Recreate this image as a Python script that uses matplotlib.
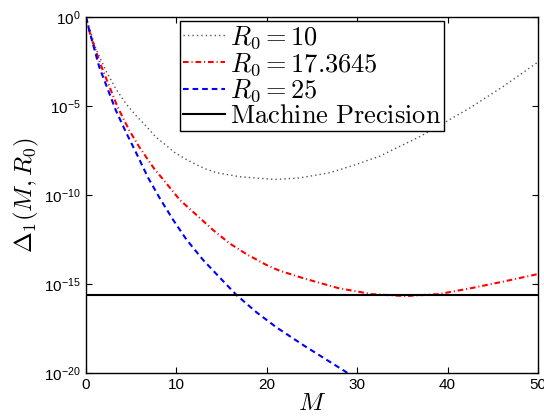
import numpy as np
import matplotlib
matplotlib.use('Agg')
import matplotlib.pyplot as plt
from matplotlib.ticker import FixedLocator, NullLocator

plt.rcParams['font.family'] = ['Liberation Sans', 'DejaVu Sans']
plt.rcParams['mathtext.fontset'] = 'cm'

# truncation error curves, stored as (M, log10 Delta_1) pairs
m_r10 = [0, 1.1, 2.2, 3.3, 4.42, 5.52, 6.63, 7.73, 8.84, 9.7, 11.0, 12.2, 13.3, 14.44,
         17.0, 20.9, 23.6, 27.0, 29.7, 32.5, 36.9, 39.5, 42.4, 46.1, 50.0]
log_r10 = [0, -1.78, -3.0, -4.03, -4.87, -5.53, -6.12, -6.75, -7.2, -7.58, -7.98,
           -8.3, -8.55, -8.75, -8.98, -9.13, -9.05, -8.75, -8.32, -7.82, -6.73,
           -5.98, -5.13, -3.92, -2.53]

m_r17 = [0, 0.55, 1.66, 2.39, 3.5, 4.79, 5.9, 7.55, 8.6, 10.4, 12.23, 14.07, 15.9,
         17.75, 19.96, 21.4, 24.2, 27.9, 31.6, 35.3, 39.0, 42.65, 46.3, 50.0]
log_r17 = [0, -1.12, -2.72, -3.65, -5.06, -6.37, -7.31, -8.53, -9.17, -10.29,
           -11.13, -11.98, -12.73, -13.33, -13.94, -14.26, -14.71, -15.24, -15.58,
           -15.69, -15.58, -15.24, -14.86, -14.45]

m_r25 = [0, 0.37, 1.47, 2.39, 3.31, 4.42, 5.52, 6.89, 8.18, 9.65, 11.1, 12.96,
         14.8, 16.65, 18.86, 21.07, 24.2, 28.65, 29.6]
log_r25 = [0, -0.75, -2.81, -4.03, -5.25, -6.47, -7.6, -9.05, -10.2, -11.41,
           -12.5, -13.66, -14.65, -15.63, -16.6, -17.45, -18.5, -19.92, -20.25]

eps = 2.22e-16
labels = ['$R_0 = 10$', '$R_0 = 17.3645$', '$R_0 = 25$', r'$\mathrm{Machine\ Precision}$']

fig = plt.figure(figsize=(5.44, 4.16), dpi=100)
ax = fig.add_axes([0.158, 0.104, 0.831, 0.855])

ax.semilogy(m_r10, 10.0 ** np.array(log_r10), color='#555555', lw=1.0,
            linestyle=(0, (1, 2.2)), label=labels[0])
ax.semilogy(m_r17, 10.0 ** np.array(log_r17), color='red', lw=1.5,
            linestyle=(0, (2.7, 1.4, 0.5, 1.4)), label=labels[1])
ax.semilogy(m_r25, 10.0 ** np.array(log_r25), color='blue', lw=1.5,
            linestyle=(0, (2.7, 1.9)), label=labels[2])
ax.axhline(eps, color='black', lw=1.5, label=labels[3])

ax.set_xlim(0, 50)
ax.set_ylim(1e-20, 1e0)

ax.xaxis.set_major_locator(FixedLocator([0, 10, 20, 30, 40, 50]))
ax.yaxis.set_major_locator(FixedLocator([1e-20, 1e-15, 1e-10, 1e-5, 1e0]))
ax.yaxis.set_minor_locator(NullLocator())
ax.set_yticklabels([r'$\mathregular{10^{%d}}$' % e for e in [-20, -15, -10, -5, 0]])
ax.tick_params(direction='in', top=True, right=True, length=4, width=0.8,
               labelsize=11, pad=4)
for s in ax.spines.values():
    s.set_linewidth(1.0)

ax.set_xlabel('$M$', fontsize=18, labelpad=-1)
ax.set_ylabel(r'$\Delta_1(M,R_0)$', fontsize=18, labelpad=2)

leg = ax.legend(loc='upper left', bbox_to_anchor=(0.208, 0.988), fontsize=19,
                frameon=True, fancybox=False, borderaxespad=0, borderpad=0.1,
                labelspacing=0.0, handlelength=1.6, handletextpad=0.2)
leg.get_frame().set_edgecolor('black')
leg.get_frame().set_linewidth(1.0)
leg.get_frame().set_alpha(1)

fig.savefig('out.png', dpi=100)
